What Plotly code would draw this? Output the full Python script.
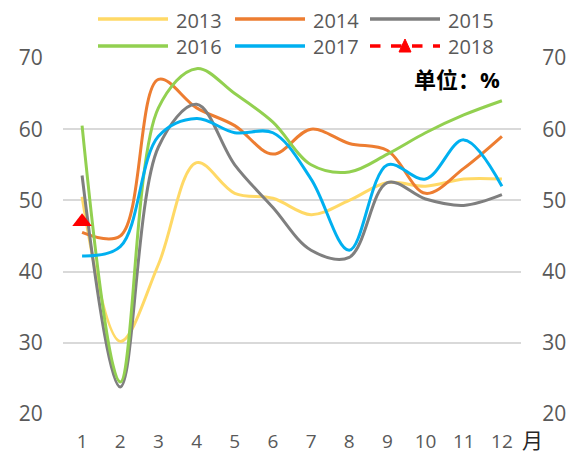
import plotly.graph_objects as go

months = [1, 2, 3, 4, 5, 6, 7, 8, 9, 10, 11, 12]
month_labels = [str(m) for m in months]
series_names = ["2013", "2014", "2015", "2016", "2017", "2018"]
v2013 = [50.5, 30.2, 41.0, 55.3, 51.0, 50.3, 48.0, 50.0, 52.5, 52.0, 53.0, 53.0]
v2014 = [45.5, 45.0, 67.0, 63.0, 60.5, 56.5, 60.0, 58.0, 57.0, 51.0, 54.5, 59.0]
v2015 = [53.5, 23.8, 57.5, 63.5, 55.0, 49.0, 43.0, 42.0, 52.5, 50.2, 49.3, 50.8]
v2016 = [60.5, 24.5, 63.0, 68.5, 65.0, 61.0, 55.0, 54.0, 56.5, 59.5, 62.0, 64.0]
v2017 = [42.2, 43.5, 59.0, 61.5, 59.5, 59.5, 53.0, 43.0, 55.0, 53.0, 58.5, 52.0]
v2018 = [47.0]
y_ticks = [20, 30, 40, 50, 60, 70]

colors = ["#FFD966", "#ED7D31", "#7F7F7F", "#92D050", "#00B0F0", "#FF0000"]
values = [v2013, v2014, v2015, v2016, v2017]

FONT = "Open Sans, Noto Sans CJK SC, sans-serif"
TXT = "#595959"

W, H = 569, 455
L, T = 63, 58
R = W - 521
B = H - 414
pw, ph = W - L - R, H - T - B

def px(x):
    return (x - L) / pw

def py(y):
    return (H - B - y) / ph

fig = go.Figure()
for name, vals, col in zip(series_names[:5], values, colors[:5]):
    fig.add_trace(go.Scatter(
        x=months[:len(vals)], y=vals, name=name, mode="lines",
        line=dict(color=col, width=3, shape="spline", smoothing=1.0),
        showlegend=False))
fig.add_trace(go.Scatter(
    x=months[:len(v2018)], y=v2018, name=series_names[5], mode="lines+markers",
    line=dict(color=colors[5], width=3, dash="dash"),
    marker=dict(symbol="triangle-up", size=17, color=colors[5]),
    showlegend=False))
# invisible trace for right axis
fig.add_trace(go.Scatter(x=[months[0]], y=[v2018[0]], yaxis="y2", mode="markers",
                         marker=dict(opacity=0), showlegend=False, hoverinfo="skip"))

shapes = []
annotations = []
# manual legend (two rows of three)
line_x = [98, 235, 370]
row_y = [19, 46]
for i, (name, col) in enumerate(zip(series_names, colors)):
    r, c = divmod(i, 3)
    x0 = line_x[c]
    yy = row_y[r]
    dash = "dash" if name == "2018" else "solid"
    shapes.append(dict(type="line", xref="paper", yref="paper",
                       x0=px(x0), x1=px(x0 + 70), y0=py(yy), y1=py(yy),
                       line=dict(color=col, width=3.5, dash=dash)))
    if name == "2018":
        shapes.append(dict(type="path", xref="paper", yref="paper",
                           xsizemode="pixel", ysizemode="pixel",
                           xanchor=px(x0 + 35), yanchor=py(yy),
                           path="M -6 -6 L 6 -6 L 0 7 Z",
                           fillcolor=col, line=dict(color=col, width=1)))
    annotations.append(dict(text=name, xref="paper", yref="paper",
                            x=px(x0 + 76), y=py(yy + 1), xanchor="left", yanchor="middle",
                            showarrow=False, font=dict(family=FONT, size=20, color=TXT)))

annotations.append(dict(text="<b>单位：%</b>", xref="paper", yref="paper",
                        x=px(502), y=py(79), xanchor="right", yanchor="middle",
                        showarrow=False, font=dict(family=FONT, size=22, color="#000000")))
annotations.append(dict(text="月", xref="paper", yref="paper",
                        x=px(520), y=py(440), xanchor="left", yanchor="middle",
                        showarrow=False, font=dict(family=FONT, size=21, color="#262626")))

fig.update_layout(
    width=W, height=H,
    margin=dict(l=L, r=R, t=T, b=B, pad=0, autoexpand=False),
    paper_bgcolor="white", plot_bgcolor="white",
    font=dict(family=FONT, size=21, color=TXT),
    shapes=shapes, annotations=annotations,
    xaxis=dict(tickmode="array", tickvals=months, ticktext=month_labels,
               range=[0.5, 12.5], showgrid=False, zeroline=False, showline=False,
               ticks="outside", ticklen=10, tickcolor="rgba(0,0,0,0)",
               tickfont=dict(size=19, color=TXT), automargin=False),
    yaxis=dict(range=[20, 70], tickvals=y_ticks, showgrid=True, gridcolor="#D9D9D9",
               gridwidth=2, zeroline=False, showline=False,
               ticks="outside", ticklen=15, tickcolor="rgba(0,0,0,0)",
               tickfont=dict(size=21, color=TXT), automargin=False),
    yaxis2=dict(range=[20, 70], tickvals=y_ticks, overlaying="y", side="right",
                showgrid=False, zeroline=False, showline=False,
                ticks="outside", ticklen=16, tickcolor="rgba(0,0,0,0)",
                tickfont=dict(size=21, color=TXT), automargin=False),
)

fig.write_html("out.html", config={"displayModeBar": False},
               post_script="document.body.style.margin='0';document.body.style.overflow='hidden';")
